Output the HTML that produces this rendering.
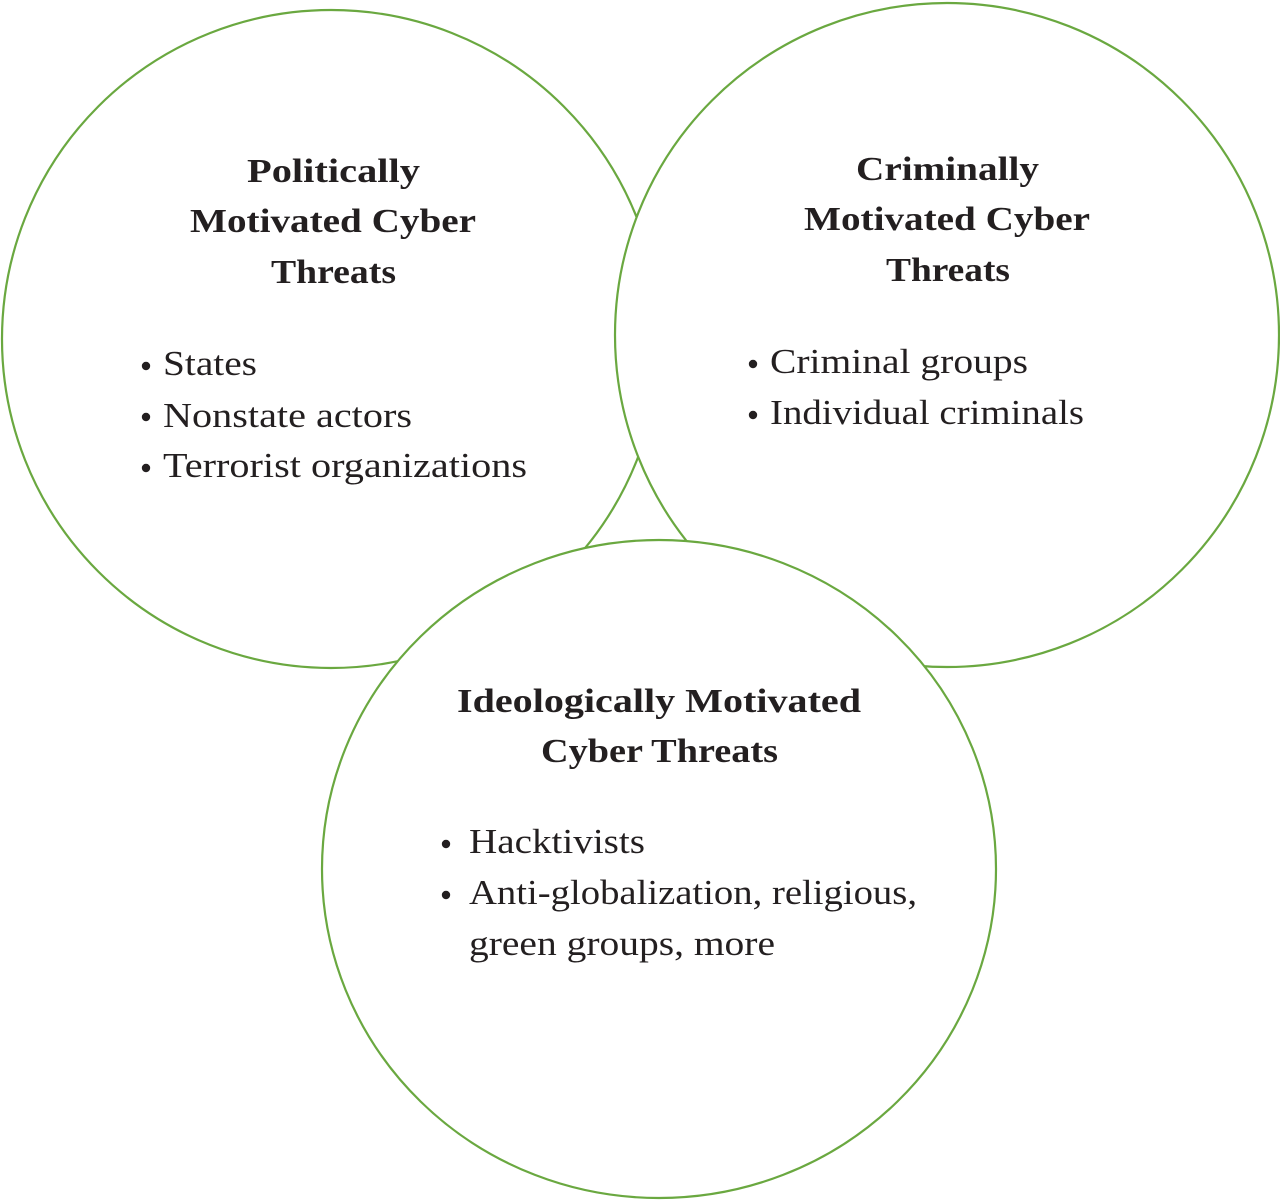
<!DOCTYPE html>
<html><head><meta charset="utf-8"><style>html,body{margin:0;padding:0;background:#fff}svg{display:block}</style></head>
<body>
<svg width="1280" height="1200" viewBox="0 0 1280 1200" xmlns="http://www.w3.org/2000/svg">
<g fill="#fff" stroke="#6aa840" stroke-width="2.2">
<circle cx="331" cy="339" r="329"/>
<circle cx="947" cy="335" r="332"/>
<ellipse cx="659" cy="869" rx="337" ry="329"/>
</g>
<g font-family="Liberation Serif, serif" fill="#231f20">
<g font-weight="bold" font-size="34">
<text x="247" y="182" textLength="173" lengthAdjust="spacingAndGlyphs">Politically</text>
<text x="190" y="232" textLength="286" lengthAdjust="spacingAndGlyphs">Motivated Cyber</text>
<text x="271" y="283" textLength="125" lengthAdjust="spacingAndGlyphs">Threats</text>
<text x="856" y="180" textLength="183" lengthAdjust="spacingAndGlyphs">Criminally</text>
<text x="804" y="230" textLength="286" lengthAdjust="spacingAndGlyphs">Motivated Cyber</text>
<text x="886" y="281" textLength="124" lengthAdjust="spacingAndGlyphs">Threats</text>
<text x="457" y="712" textLength="404" lengthAdjust="spacingAndGlyphs">Ideologically Motivated</text>
<text x="541" y="762" textLength="237" lengthAdjust="spacingAndGlyphs">Cyber Threats</text>
</g>
<g font-size="35">
<text x="163" y="375" textLength="94" lengthAdjust="spacingAndGlyphs">States</text>
<text x="163" y="427" textLength="249" lengthAdjust="spacingAndGlyphs">Nonstate actors</text>
<text x="163" y="477" textLength="364" lengthAdjust="spacingAndGlyphs">Terrorist organizations</text>
<text x="770" y="373" textLength="258" lengthAdjust="spacingAndGlyphs">Criminal groups</text>
<text x="770" y="424" textLength="314" lengthAdjust="spacingAndGlyphs">Individual criminals</text>
<text x="469" y="853" textLength="176" lengthAdjust="spacingAndGlyphs">Hacktivists</text>
<text x="469" y="904" textLength="448" lengthAdjust="spacingAndGlyphs">Anti-globalization, religious,</text>
<text x="469" y="955" textLength="306" lengthAdjust="spacingAndGlyphs">green groups, more</text>
</g>
<g>
<circle cx="146" cy="366" r="4.2"/><circle cx="146" cy="417" r="4.2"/><circle cx="146" cy="468" r="4.2"/>
<circle cx="753" cy="364" r="4.2"/><circle cx="753" cy="415" r="4.2"/>
<circle cx="446" cy="844" r="4.2"/><circle cx="446" cy="895" r="4.2"/>
</g>
</g>
</svg>
</body></html>
